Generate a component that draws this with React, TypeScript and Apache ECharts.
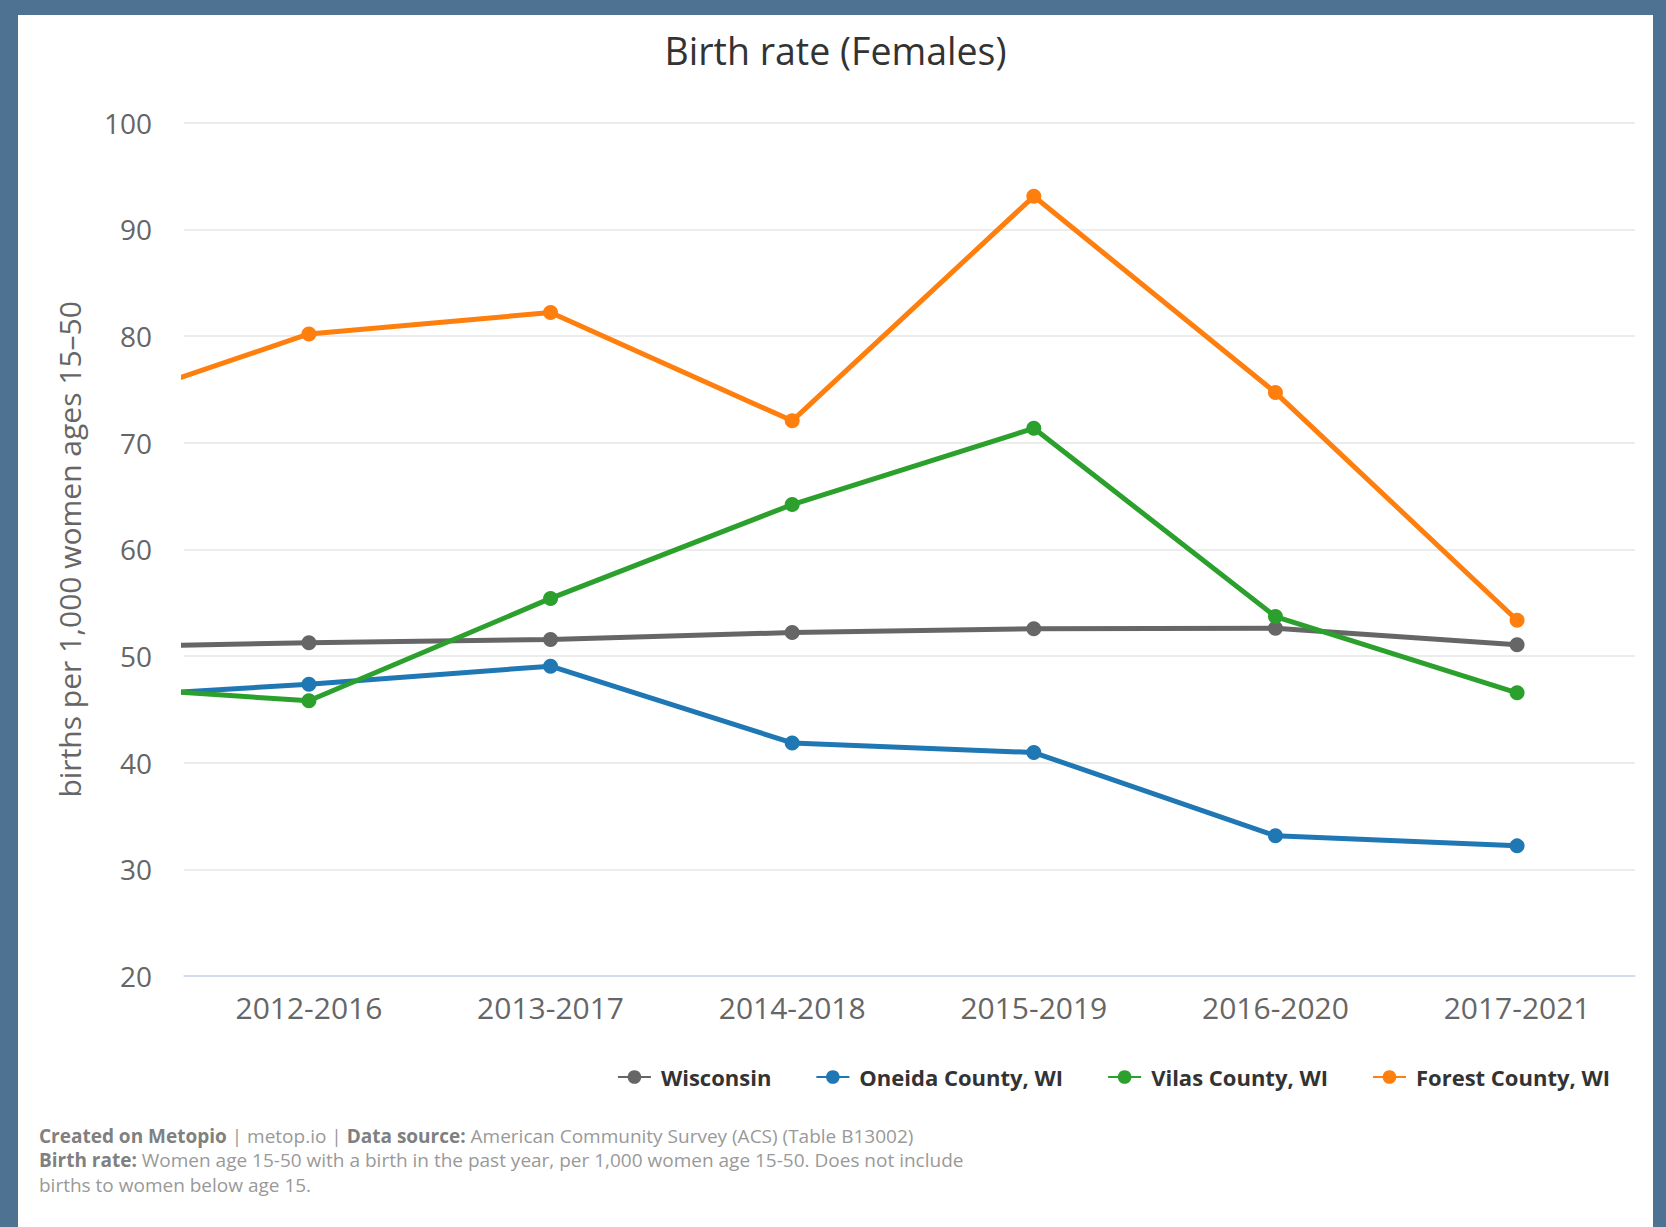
import React, { useEffect, useRef } from "react";
import * as echarts from "echarts";

const categories = ["2011-2015", "2012-2016", "2013-2017", "2014-2018", "2015-2019", "2016-2020", "2017-2021"];
const wisconsin = [50.8, 51.25, 51.55, 52.2, 52.55, 52.6, 51.05];
const oneida = [46.0, 47.35, 49.05, 41.85, 40.95, 33.15, 32.2];
const vilas = [47.3, 45.8, 55.4, 64.2, 71.35, 53.7, 46.55];
const forest = [72.5, 80.2, 82.2, 72.05, 93.1, 74.7, 53.35];
const seriesNames = ["Wisconsin", "Oneida County, WI", "Vilas County, WI", "Forest County, WI"];
const seriesColors = ["#666666", "#1f77b4", "#2ca02c", "#ff7f0e"];
const visibleTicks = [1, 2, 3, 4, 5, 6];

const FONT = "'Open Sans', 'Noto Sans', sans-serif";

export default function App() {
  const ref = useRef<HTMLDivElement>(null);
  useEffect(() => {
    document.body.style.margin = "0";
    if (!ref.current) return;
    const chart = echarts.init(ref.current, null, { renderer: "svg" });
    const allData = [wisconsin, oneida, vilas, forest];
    chart.setOption({
      animation: false,
      backgroundColor: "#ffffff",
      textStyle: { fontFamily: FONT },
      title: {
        text: "Birth rate (Females)",
        left: "center",
        top: 11,
        textStyle: { fontFamily: FONT, fontSize: 37.5, fontWeight: "normal", color: "#333333" },
      },
      legend: {
        right: 38,
        top: 1046,
        itemWidth: 33,
        itemHeight: 17,
        itemGap: 44,
        data: seriesNames,
        textStyle: { fontFamily: FONT, fontSize: 22, fontWeight: "bold", color: "#333333", padding: [0, 0, 0, 5] },
      },
      grid: { left: 166, right: 18, top: 107.7, bottom: 251, containLabel: false },
      xAxis: {
        type: "value",
        min: 0.483,
        max: 6.488,
        axisLine: { show: true, lineStyle: { color: "#ccd6eb", width: 1.5 } },
        axisTick: { show: false },
        splitLine: { show: false },
        axisLabel: {
          customValues: visibleTicks,
          formatter: (v: number) => categories[Math.round(v)] || "",
          fontFamily: FONT,
          fontSize: 30,
          color: "#666666",
          margin: 16,
        },
      },
      yAxis: {
        type: "value",
        min: 20,
        max: 100,
        interval: 10,
        name: "births per 1,000 women ages 15\u201350",
        nameLocation: "middle",
        nameGap: 100,
        nameTextStyle: { fontFamily: FONT, fontSize: 30, color: "#666666" },
        axisLine: { show: false },
        axisTick: { show: false },
        splitLine: { lineStyle: { color: "#e6e6e6", width: 1.5 } },
        axisLabel: { fontFamily: FONT, fontSize: 28, color: "#666666", margin: 32 },
      },
      series: seriesNames.map((name, i) => ({
        name,
        type: "line",
        clip: true,
        symbol: "circle",
        symbolSize: 15,
        color: seriesColors[i],
        lineStyle: { width: 5, color: seriesColors[i] },
        itemStyle: { color: seriesColors[i] },
        data: allData[i].map((v, j) => [j, v]),
      })),
      graphic: [
        {
          type: "text",
          left: 21,
          top: 1111,
          style: {
            text: "{b|Created on Metopio} | metop.io | {b|Data source:} American Community Survey (ACS) (Table B13002)",
            fontFamily: FONT,
            fontSize: 19,
            fill: "#999999",
            rich: { b: { fontFamily: FONT, fontSize: 19, fontWeight: "bold", fill: "#808080" } },
          },
        },
        {
          type: "text",
          left: 21,
          top: 1135,
          style: {
            text: "{b|Birth rate:} Women age 15-50 with a birth in the past year, per 1,000 women age 15-50. Does not include",
            fontFamily: FONT,
            fontSize: 19,
            fill: "#999999",
            rich: { b: { fontFamily: FONT, fontSize: 19, fontWeight: "bold", fill: "#808080" } },
          },
        },
        {
          type: "text",
          left: 21,
          top: 1160,
          style: {
            text: "births to women below age 15.",
            fontFamily: FONT,
            fontSize: 19,
            fill: "#999999",
          },
        },
      ],
    });
    return () => chart.dispose();
  }, []);

  return (
    <div style={{ position: "relative", width: 1666, height: 1227, background: "#4e7392", overflow: "hidden" }}>
      <div
        ref={ref}
        style={{ position: "absolute", left: 18, top: 15, width: 1635, height: 1212, background: "#ffffff" }}
      />
    </div>
  );
}
